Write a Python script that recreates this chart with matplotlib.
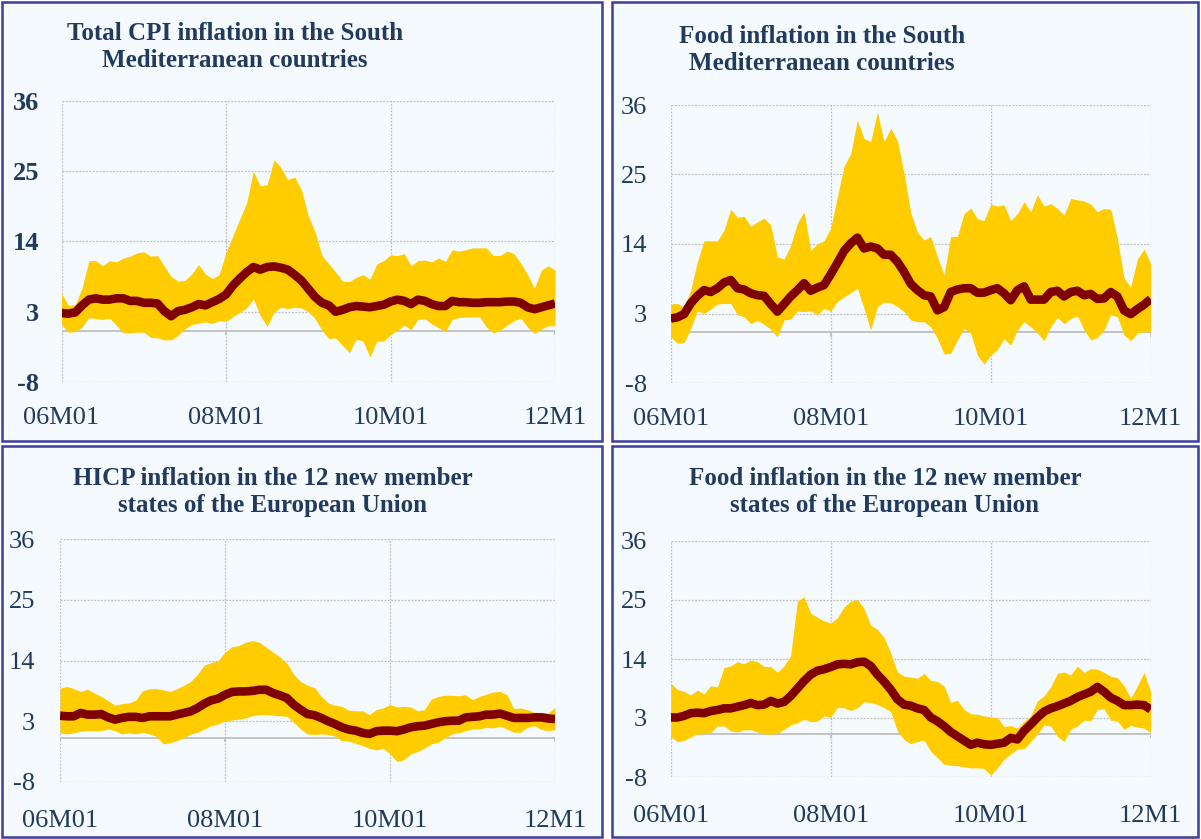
import matplotlib
matplotlib.use("Agg")
import matplotlib.pyplot as plt
from matplotlib.patches import Rectangle
import numpy as np

plt.rcParams["axes.unicode_minus"] = False

# ---------------- data ----------------
x_labels = ["06M01", "08M01", "10M01", "12M1"]
y_ticks = [-8, 3, 14, 25, 36]

titles = [
    "Total CPI inflation in the South\nMediterranean countries",
    "Food inflation in the South\nMediterranean countries",
    "HICP inflation in the 12 new member\nstates of the European Union",
    "Food inflation in the 12 new member\nstates of the European Union",
]

# Panel 1: total CPI, South Mediterranean
p1_max = [5.9, 4.0, 4.1, 6.7, 11.0, 11.0, 10.2, 11.0, 10.8, 11.4,
          11.7, 12.2, 12.4, 11.7, 11.8, 10.1, 8.5, 7.8, 7.9, 8.9,
          10.4, 8.9, 8.2, 8.8, 12.3, 14.9, 17.5, 20.0, 25.0, 22.7,
          22.9, 26.8, 25.6, 23.7, 24.1, 22.1, 18.0, 15.5, 11.8, 10.5,
          9.2, 7.8, 7.7, 8.4, 8.8, 8.1, 10.5, 11.0, 11.9, 11.8,
          12.1, 10.2, 11.0, 11.1, 10.8, 11.4, 10.9, 12.7, 12.5, 12.7,
          13.0, 13.0, 13.0, 11.8, 11.8, 12.5, 12.1, 10.6, 8.8, 6.7,
          9.5, 10.2, 9.5]
p1_min = [1.0, -0.2, -0.1, 0.6, 2.1, 1.9, 1.8, 2.0, 0.9, -0.3,
          -0.3, -0.2, -0.2, -1.0, -1.1, -1.4, -1.4, -0.7, 0.3, 1.0,
          1.2, 1.4, 1.2, 1.6, 1.5, 2.2, 2.9, 3.6, 5.0, 2.4,
          0.7, 2.9, 3.7, 3.5, 3.7, 3.6, 3.0, 1.9, 0.1, -1.2,
          -1.1, -2.3, -3.4, -1.3, -1.6, -4.1, -1.6, -1.6, -0.6, 0.1,
          0.9, 0.2, 1.8, 1.9, 1.1, 0.5, -0.1, 1.8, 2.1, 2.2,
          2.2, 2.2, 0.6, -0.3, 0.1, 0.9, 1.6, 2.0, 0.6, -0.4,
          0.3, 0.8, 0.8]
p1_med = [2.8, 2.7, 2.9, 4.0, 4.9, 5.1, 4.9, 4.9, 5.1, 5.1,
          4.7, 4.7, 4.4, 4.4, 4.3, 3.1, 2.3, 3.1, 3.3, 3.7,
          4.2, 4.0, 4.5, 5.0, 5.7, 7.1, 8.2, 9.2, 10.0, 9.6,
          10.0, 10.1, 9.9, 9.6, 8.8, 7.9, 6.6, 5.3, 4.4, 4.0,
          3.0, 3.3, 3.7, 3.9, 3.8, 3.7, 3.9, 4.1, 4.6, 4.9,
          4.7, 4.2, 4.9, 4.7, 4.2, 3.9, 3.9, 4.7, 4.5, 4.5,
          4.4, 4.4, 4.5, 4.5, 4.5, 4.6, 4.6, 4.4, 3.7, 3.4,
          3.7, 4.0, 4.3]

# Panel 2: food, South Mediterranean
p2_max = [4.5, 4.6, 4.0, 6.7, 11.2, 14.5, 14.5, 14.5, 16.2, 19.5,
          18.2, 18.4, 16.8, 17.5, 18.1, 17.0, 12.0, 11.6, 13.8, 17.3,
          19.1, 13.0, 14.0, 14.5, 16.5, 21.5, 26.3, 28.3, 33.6, 30.7,
          30.2, 34.9, 30.2, 32.3, 30.4, 25.2, 19.0, 15.9, 14.6, 15.2,
          12.0, 9.1, 15.2, 15.2, 18.8, 19.7, 18.0, 17.7, 20.3, 20.0,
          20.2, 17.7, 18.8, 20.7, 19.1, 21.8, 20.0, 20.4, 19.6, 18.6,
          21.2, 21.0, 20.8, 20.3, 19.1, 19.6, 19.5, 14.9, 8.6, 7.2,
          11.6, 13.2, 10.9]
p2_min = [-0.7, -1.7, -1.6, 0.6, 3.4, 3.0, 3.7, 4.5, 4.6, 4.6,
          2.8, 2.5, 1.4, 1.9, 1.3, 0.5, -0.7, 2.0, 2.1, 3.4,
          3.3, 3.4, 2.8, 3.8, 3.4, 4.9, 5.6, 6.3, 7.0, 3.8,
          0.4, 4.1, 4.8, 4.7, 4.1, 3.3, 2.0, 1.7, 1.7, 0.9,
          -0.9, -3.4, -3.3, -1.2, 0.6, -0.1, -3.6, -5.0, -3.6, -2.7,
          -1.0, -2.0, 0.4, 1.7, 0.9, -0.1, -1.3, 0.9, 2.4, 1.4,
          2.2, 2.6, 0.4, -1.2, -0.8, 0.4, 2.8, 2.5, -0.4, -1.3,
          -0.1, 0.1, 0.1]
p2_med = [2.2, 2.4, 2.9, 4.6, 5.8, 6.7, 6.4, 7.0, 7.9, 8.3,
          7.0, 6.8, 6.2, 5.9, 5.8, 4.5, 3.3, 4.5, 5.7, 6.7,
          7.8, 6.6, 7.1, 7.5, 9.2, 11.0, 12.9, 14.1, 15.0, 13.3,
          13.6, 13.3, 12.3, 12.3, 11.2, 9.6, 7.7, 6.7, 5.9, 5.7,
          3.5, 4.0, 6.4, 6.8, 7.0, 7.0, 6.3, 6.3, 6.7, 7.0,
          6.2, 5.1, 6.7, 7.3, 5.2, 5.2, 5.2, 6.4, 6.6, 5.7,
          6.4, 6.6, 5.9, 6.1, 5.3, 5.4, 6.4, 5.7, 3.5, 2.9,
          3.7, 4.4, 5.3]

# Panel 3: HICP, 12 new EU member states
p3_max = [9.0, 9.3, 8.9, 8.4, 8.8, 8.1, 7.5, 6.7, 5.9, 6.2,
          6.3, 6.8, 8.5, 8.9, 8.9, 8.7, 8.4, 8.9, 9.5, 10.2,
          11.5, 13.2, 13.6, 14.0, 15.5, 16.5, 16.7, 17.3, 17.6, 17.3,
          16.4, 15.5, 14.6, 13.5, 11.5, 10.2, 9.5, 9.1, 7.5, 6.3,
          5.9, 5.7, 5.0, 4.9, 4.9, 4.2, 5.1, 5.4, 6.0, 5.6,
          5.7, 5.6, 4.9, 5.1, 7.0, 7.5, 7.7, 7.7, 7.6, 7.8,
          6.9, 7.5, 7.9, 8.3, 8.4, 7.8, 5.3, 5.4, 5.1, 4.6,
          4.6, 4.5, 5.5]
p3_min = [0.9, 0.7, 0.9, 1.2, 1.3, 1.3, 1.3, 1.6, 1.3, 0.7,
          0.9, 0.7, 1.0, 0.7, 0.3, -1.1, -0.9, -0.5, 0.0, 0.7,
          1.0, 1.6, 2.2, 2.5, 3.1, 3.2, 3.4, 3.6, 4.0, 4.2,
          4.2, 4.1, 4.0, 3.9, 2.8, 1.6, 0.7, 0.6, 0.7, 0.6,
          0.3, -0.5, -0.6, -1.0, -1.4, -1.9, -2.2, -1.9, -2.9, -4.3,
          -4.0, -2.9, -2.5, -1.9, -1.1, -0.8, 0.0, 0.7, 0.9, 1.3,
          1.6, 1.6, 1.9, 1.8, 2.1, 1.6, 1.0, 1.0, 1.9, 2.2,
          1.5, 1.3, 1.5]
p3_med = [4.0, 3.9, 3.9, 4.5, 4.2, 4.2, 4.3, 3.7, 3.3, 3.6,
          3.8, 3.8, 3.6, 3.9, 3.9, 3.9, 3.9, 4.2, 4.5, 4.8,
          5.4, 6.2, 6.8, 7.1, 7.8, 8.3, 8.4, 8.4, 8.5, 8.7,
          8.7, 8.1, 7.7, 7.2, 6.0, 5.1, 4.3, 4.1, 3.6, 3.0,
          2.5, 1.9, 1.5, 1.3, 0.9, 0.7, 1.2, 1.3, 1.3, 1.2,
          1.5, 1.9, 2.1, 2.2, 2.5, 2.8, 3.0, 3.1, 3.1, 3.7,
          3.8, 3.9, 4.2, 4.2, 4.4, 4.0, 3.6, 3.6, 3.6, 3.7,
          3.7, 3.5, 3.4]

# Panel 4: food, 12 new EU member states
p4_max = [9.5, 8.3, 8.0, 7.3, 8.2, 7.5, 9.0, 8.8, 12.4, 12.7,
          13.5, 13.1, 13.8, 13.5, 12.6, 12.6, 11.5, 12.7, 14.7, 24.8,
          25.6, 22.5, 21.8, 21.1, 20.7, 21.7, 23.7, 24.8, 25.1, 23.4,
          20.3, 19.5, 18.0, 15.1, 11.6, 10.8, 10.6, 10.4, 11.3, 10.0,
          9.8, 9.0, 5.9, 6.3, 4.6, 3.8, 3.7, 3.4, 3.2, 3.1,
          1.4, 1.6, 1.1, 2.4, 3.4, 6.2, 7.1, 8.8, 11.3, 11.6,
          11.0, 12.7, 11.5, 12.2, 12.1, 11.5, 10.8, 10.5, 9.0, 6.7,
          9.0, 11.5, 7.9]
p4_min = [-0.5, -1.4, -1.2, -0.5, 0.0, 0.1, 0.3, 1.5, 1.5, 0.6,
          0.4, 0.8, 0.8, 0.4, 0.0, 0.0, 0.1, 0.9, 1.7, 2.1,
          2.8, 2.3, 2.4, 3.4, 3.1, 5.0, 4.9, 4.4, 4.9, 6.0,
          5.9, 5.5, 4.9, 4.2, 0.6, -1.0, -1.8, -1.4, -1.1, -3.2,
          -4.4, -5.6, -5.8, -5.9, -6.1, -6.3, -6.3, -6.4, -7.7, -6.3,
          -4.7, -3.7, -2.8, -2.7, -1.4, 0.0, 1.7, 1.5, -0.4, -1.4,
          0.9, 1.5, 2.6, 2.5, 4.6, 4.7, 2.6, 2.4, 0.9, 1.6,
          1.3, 1.1, 0.3]
p4_med = [3.1, 3.1, 3.4, 3.9, 4.0, 3.9, 4.3, 4.5, 4.8, 4.8,
          5.1, 5.4, 5.8, 5.4, 5.5, 6.2, 5.7, 6.0, 7.1, 8.5,
          9.9, 11.1, 11.8, 12.1, 12.5, 13.0, 13.1, 13.0, 13.4, 13.5,
          12.7, 11.1, 9.8, 8.3, 6.5, 5.5, 5.3, 4.8, 4.5, 3.1,
          2.4, 1.5, 0.4, -0.4, -1.2, -2.0, -1.6, -1.9, -2.0, -1.8,
          -1.6, -0.7, -1.0, 0.6, 1.8, 3.1, 4.2, 4.8, 5.2, 5.7,
          6.2, 6.9, 7.4, 7.9, 8.8, 7.9, 6.8, 6.2, 5.4, 5.4,
          5.5, 5.4, 4.6]

# ---------------- layout / style ----------------
W, H = 1201, 839
TXT = "#223A5E"
BAND = "#FFCC00"
MED = "#7F0000"
GRID = "#BFBFBF"
BOXBG = "#F5FAFE"
BORDER = "#3D3D9E"
SERIF = ["Liberation Serif", "DejaVu Serif"]

fig = plt.figure(figsize=(W / 100, H / 100), dpi=100)
fig.patch.set_facecolor("white")

# background axes holding the panel frames
bg = fig.add_axes([0, 0, 1, 1], zorder=-5)
bg.set_xlim(0, W)
bg.set_ylim(H, 0)
bg.axis("off")

# panel boxes in pixels: (x0, y0, x1, y1) with y from top
boxes = [(2, 2, 602, 441), (612, 2, 1198, 441),
         (2, 446, 602, 837), (612, 446, 1198, 837)]
# plot areas in pixels: (x0, x1, ytop, ybot)
plots = [(61.5, 555, 101, 382), (670.7, 1150.7, 105, 383),
         (60, 555, 539, 782), (670.7, 1150.7, 541, 777)]
title_pos = [(235, 47), (822, 50), (273, 492), (885, 492)]
ypads = [16, 17, 18, 17]
xpads = [18, 18, 20, 20]
series = [(p1_max, p1_min, p1_med), (p2_max, p2_min, p2_med),
          (p3_max, p3_min, p3_med), (p4_max, p4_min, p4_med)]

for bx in boxes:
    x0, y0, x1, y1 = bx
    bg.add_patch(Rectangle((x0, y0), x1 - x0, y1 - y0, facecolor=BOXBG,
                           edgecolor=BORDER, linewidth=1.8))

for k in range(4):
    x0, x1, yt, yb = plots[k]
    ax = fig.add_axes([x0 / W, 1 - yb / H, (x1 - x0) / W, (yb - yt) / H], zorder=1)
    ax.set_facecolor("none")
    hi, lo, md = series[k]
    x = np.arange(len(md))
    ax.fill_between(x, lo, hi, color=BAND, linewidth=0, zorder=2)
    ax.plot(x, md, color=MED, linewidth=6.2, solid_capstyle="butt",
            solid_joinstyle="round", zorder=3)
    ax.axhline(0, color=GRID, linewidth=1.3, zorder=1)
    ax.vlines([0, 24, 48, 72], -0.7, 0, color=GRID, linewidth=1.3, zorder=1)
    ax.set_xlim(0, len(md) - 1)
    ax.set_ylim(-8, 36)
    ax.set_yticks(y_ticks)
    ax.set_xticks([0, 24, 48, 72])
    ax.set_xticklabels(x_labels)
    ax.grid(True, color=GRID, linestyle=(0, (1.5, 1.2)), linewidth=0.9, zorder=0)
    ax.set_axisbelow(True)
    for s in ax.spines.values():
        s.set_visible(False)
    ax.tick_params(length=0, colors=TXT)
    ax.tick_params(axis="y", pad=ypads[k])
    ax.tick_params(axis="x", pad=xpads[k])
    for lab in ax.get_yticklabels() + ax.get_xticklabels():
        lab.set_fontfamily(SERIF)
        lab.set_fontsize(19)
        lab.set_color(TXT)
    if k == 0:
        for lab in ax.get_yticklabels():
            lab.set_fontweight("bold")
    tx, ty = title_pos[k]
    fig.text(tx / W, 1 - ty / H, titles[k], ha="center", va="center",
             multialignment="center", fontsize=18, fontweight="bold",
             family=SERIF, color=TXT, linespacing=1.25, zorder=2)

fig.savefig("out.png", dpi=100, facecolor="white")
